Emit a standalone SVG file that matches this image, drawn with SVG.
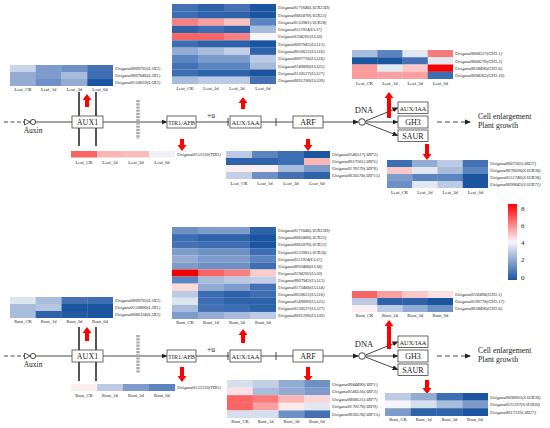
<svg xmlns="http://www.w3.org/2000/svg" width="550" height="428" viewBox="0 0 550 428">
<style>
text{font-family:"Liberation Serif","Times New Roman",serif;fill:#222}
.g{font-size:4.6px;font-style:italic}
.c{font-size:4.6px;text-anchor:middle}
.bx{fill:#fff;stroke:#444;stroke-width:0.8}
.bt{font-size:8px;text-anchor:middle}
.ln{stroke:#333;stroke-width:0.9;fill:none}
.ra{fill:#ff0000}
.mem{stroke:#555;stroke-width:2}
.gm{stroke:#aaa;stroke-width:3.5;stroke-dasharray:2.2,1}
.ce{font-size:7.8px}
</style>
<defs>
<marker id="ah" markerWidth="6" markerHeight="6" refX="5" refY="3" orient="auto" markerUnits="userSpaceOnUse"><path d="M0,0.5 L6,3 L0,5.5 Z" fill="#222"/></marker>
<marker id="oh" markerWidth="7" markerHeight="7" refX="6" refY="3.5" orient="auto" markerUnits="userSpaceOnUse"><path d="M0.5,0.5 L6,3.5 L0.5,6.5 Z" fill="#fff" stroke="#333" stroke-width="0.8"/></marker>
<linearGradient id="cb" x1="0" y1="0" x2="0" y2="1"><stop offset="0" stop-color="#ff0000"/><stop offset="0.5" stop-color="#f7f7fb"/><stop offset="1" stop-color="#1b559f"/></linearGradient>
</defs>

<g id="connectors-top">
<line class="ln" x1="4" y1="122" x2="24" y2="122" stroke-dasharray="4,2.5"/>
<line class="ln" x1="23" y1="122" x2="30" y2="122" marker-end="url(#oh)"/>
<circle cx="33" cy="122" r="2.6" fill="#fff" stroke="#333" stroke-width="0.9"/>
<line class="ln" x1="35.6" y1="122" x2="72" y2="122"/>
<line class="mem" x1="79" y1="92" x2="79" y2="146"/>
<line class="mem" x1="96" y1="92" x2="96" y2="146"/>
<line class="ln" x1="103" y1="122" x2="166.5" y2="122" marker-end="url(#ah)"/>
<line class="gm" x1="138" y1="100" x2="138" y2="139"/>
<line class="ln" x1="196" y1="122" x2="229" y2="122"/>
<line class="ln" x1="228" y1="118" x2="228" y2="126"/>
<line class="ln" x1="261" y1="122" x2="293" y2="122"/>
<line class="ln" x1="276" y1="118" x2="276" y2="126"/>
<line class="ln" x1="323" y1="122" x2="358" y2="122" marker-end="url(#ah)"/>
<circle cx="362" cy="122" r="3.3" fill="#fff" stroke="#333" stroke-width="0.9"/>
<line class="ln" x1="365.5" y1="121" x2="397.5" y2="108" marker-end="url(#ah)"/>
<line class="ln" x1="365.5" y1="122" x2="397.5" y2="122" marker-end="url(#ah)"/>
<line class="ln" x1="365.5" y1="123" x2="397.5" y2="135.5" marker-end="url(#ah)"/>
<line class="ln" x1="437" y1="122" x2="470" y2="122" stroke-dasharray="5,3" marker-end="url(#ah)"/>
</g>
<g id="labels-top">
<text x="33" y="133" style="font-size:7.5px;text-anchor:middle">Auxin</text>
<text x="211" y="118" style="font-size:7.5px;text-anchor:middle">+u</text>
<text x="364" y="113" style="font-size:8.5px;text-anchor:middle">DNA</text>
<text class="ce" x="478" y="119">Cell enlargement</text>
<text class="ce" x="478" y="128">Plant growth</text>
</g>
<g id="aux1-top"><rect class="bx" x="72" y="116" width="31" height="12"/><text class="bt" x="87.5" y="125">AUX1</text></g>
<g id="tir1-top"><rect class="bx" x="167" y="116" width="29" height="12"/><text class="bt" x="181.5" y="125" style="font-size:7px" textLength="27" lengthAdjust="spacingAndGlyphs">TIR1/AFB</text></g>
<g id="auxiaa-top"><rect class="bx" x="230" y="116" width="31" height="12"/><text class="bt" x="245.5" y="125" style="font-size:7px" textLength="28" lengthAdjust="spacingAndGlyphs">AUX/IAA</text></g>
<g id="arf-top"><rect class="bx" x="293" y="116" width="30" height="12"/><text class="bt" x="308" y="125">ARF</text></g>
<g id="auxiaa2-top"><rect class="bx" x="398" y="102" width="30" height="11.5"/><text class="bt" x="413" y="110.5" style="font-size:7px" textLength="27" lengthAdjust="spacingAndGlyphs">AUX/IAA</text></g>
<g id="gh3-top"><rect class="bx" x="398" y="116" width="30" height="12"/><text class="bt" x="413" y="125">GH3</text></g>
<g id="saur-top"><rect class="bx" x="398" y="130" width="30" height="11.5"/><text class="bt" x="413" y="139">SAUR</text></g>

<g id="redarrows-top">
<path class="ra" d="M87,94 L91.5,100 L89,100 L89,107 L85,107 L85,100 L82.5,100 Z"/>
<path class="ra" d="M243,97 L247.5,103 L245,103 L245,109 L241,109 L241,103 L238.5,103 Z"/>
<path class="ra" d="M389,92 L393.5,98 L391,98 L391,118 L387,118 L387,98 L384.5,98 Z"/>
<path class="ra" d="M182,151 L186.5,145 L184,145 L184,139 L180,139 L180,145 L177.5,145 Z"/>
<path class="ra" d="M308,151 L312.5,145 L310,145 L310,139 L306,139 L306,145 L303.5,145 Z"/>
<path class="ra" d="M427,160 L431.5,154 L429,154 L429,144 L425,144 L425,154 L422.5,154 Z"/>
</g>

<g id="hm-lax-top">
<rect x="10" y="65" width="26" height="7" fill="#c8d4e8"/><rect x="35.75" y="65" width="26" height="7" fill="#7d9ccb"/><rect x="61.5" y="65" width="26" height="7" fill="#6d90c5"/><rect x="87.25" y="65" width="25.75" height="7" fill="#4670b4"/>
<rect x="10" y="72" width="26" height="7" fill="#94acd3"/><rect x="35.75" y="72" width="26" height="7" fill="#7d9ccb"/><rect x="61.5" y="72" width="26" height="7" fill="#a8bcdb"/><rect x="87.25" y="72" width="25.75" height="7" fill="#3d6db3"/>
<rect x="10" y="79" width="26" height="7" fill="#94acd3"/><rect x="35.75" y="79" width="26" height="7" fill="#6d90c5"/><rect x="61.5" y="79" width="26" height="7" fill="#94acd3"/><rect x="87.25" y="79" width="25.75" height="7" fill="#1b559f"/>
<text class="g" x="115" y="70">Unigene0000793(LAX2)</text><text class="g" x="115" y="77">Unigene0007646(LAX1)</text><text class="g" x="115" y="84">Unigene0150810(LAX3)</text>
<text class="c" x="23" y="91">Leaf_CK</text><text class="c" x="48.6" y="91">Leaf_1d</text><text class="c" x="74.4" y="91">Leaf_3d</text><text class="c" x="100" y="91">Leaf_6d</text>
</g>

<g id="hm-auxiaa-top">
<rect x="172" y="4" width="26" height="7.3" fill="#4670b4"/><rect x="198" y="4" width="26" height="7.3" fill="#2e63aa"/><rect x="224" y="4" width="26" height="7.3" fill="#4670b4"/><rect x="250" y="4" width="26" height="7.3" fill="#1b559f"/>
<rect x="172" y="11.27" width="26" height="7.3" fill="#3d6db3"/><rect x="198" y="11.27" width="26" height="7.3" fill="#2e63aa"/><rect x="224" y="11.27" width="26" height="7.3" fill="#2e63aa"/><rect x="250" y="11.27" width="26" height="7.3" fill="#1b559f"/>
<rect x="172" y="18.54" width="26" height="7.3" fill="#f98080"/><rect x="198" y="18.54" width="26" height="7.3" fill="#fba0a0"/><rect x="224" y="18.54" width="26" height="7.3" fill="#fbc0c0"/><rect x="250" y="18.54" width="26" height="7.3" fill="#5b85c0"/>
<rect x="172" y="25.81" width="26" height="7.3" fill="#2e63aa"/><rect x="198" y="25.81" width="26" height="7.3" fill="#3d6db3"/><rect x="224" y="25.81" width="26" height="7.3" fill="#2e63aa"/><rect x="250" y="25.81" width="26" height="7.3" fill="#a8bcdb"/>
<rect x="172" y="33.08" width="26" height="7.3" fill="#f96464"/><rect x="198" y="33.08" width="26" height="7.3" fill="#f96464"/><rect x="224" y="33.08" width="26" height="7.3" fill="#f98080"/><rect x="250" y="33.08" width="26" height="7.3" fill="#f5f5fa"/>
<rect x="172" y="40.35" width="26" height="7.3" fill="#3d6db3"/><rect x="198" y="40.35" width="26" height="7.3" fill="#2e63aa"/><rect x="224" y="40.35" width="26" height="7.3" fill="#2e63aa"/><rect x="250" y="40.35" width="26" height="7.3" fill="#1b559f"/>
<rect x="172" y="47.62" width="26" height="7.3" fill="#94acd3"/><rect x="198" y="47.62" width="26" height="7.3" fill="#a8bcdb"/><rect x="224" y="47.62" width="26" height="7.3" fill="#c3cfe5"/><rect x="250" y="47.62" width="26" height="7.3" fill="#2e63aa"/>
<rect x="172" y="54.89" width="26" height="7.3" fill="#5b85c0"/><rect x="198" y="54.89" width="26" height="7.3" fill="#7d9ccb"/><rect x="224" y="54.89" width="26" height="7.3" fill="#7d9ccb"/><rect x="250" y="54.89" width="26" height="7.3" fill="#bccbe3"/>
<rect x="172" y="62.16" width="26" height="7.3" fill="#4670b4"/><rect x="198" y="62.16" width="26" height="7.3" fill="#5b85c0"/><rect x="224" y="62.16" width="26" height="7.3" fill="#5b85c0"/><rect x="250" y="62.16" width="26" height="7.3" fill="#a8bcdb"/>
<rect x="172" y="69.43" width="26" height="7.3" fill="#3d6db3"/><rect x="198" y="69.43" width="26" height="7.3" fill="#2e63aa"/><rect x="224" y="69.43" width="26" height="7.3" fill="#2e63aa"/><rect x="250" y="69.43" width="26" height="7.3" fill="#1b559f"/>
<rect x="172" y="76.7" width="26" height="7.3" fill="#a8bcdb"/><rect x="198" y="76.7" width="26" height="7.3" fill="#bccbe3"/><rect x="224" y="76.7" width="26" height="7.3" fill="#bccbe3"/><rect x="250" y="76.7" width="26" height="7.3" fill="#4670b4"/>
<text class="g" x="278" y="9.3">Unigene0171646(AUX22D)</text>
<text class="g" x="278" y="16.6">Unigene0081870(AUX22)</text>
<text class="g" x="278" y="23.9">Unigene0153981(AUX28)</text>
<text class="g" x="278" y="31.1">Unigene0113914(IAA7)</text>
<text class="g" x="278" y="38.4">Unigene0194202(IAA9)</text>
<text class="g" x="278" y="45.7">Unigene0007943(IAA13)</text>
<text class="g" x="278" y="52.9">Unigene0050623(IAA16)</text>
<text class="g" x="278" y="60.2">Unigene0007716(IAA18)</text>
<text class="g" x="278" y="67.5">Unigene0149009(IAA25)</text>
<text class="g" x="278" y="74.8">Unigene0150537(IAA27)</text>
<text class="g" x="278" y="82">Unigene0091290(IAA30)</text>
<text class="c" x="185" y="90">Leaf_CK</text><text class="c" x="211" y="90">Leaf_1d</text><text class="c" x="237" y="90">Leaf_3d</text><text class="c" x="263" y="90">Leaf_6d</text>
</g>

<g id="hm-gh3-top">
<rect x="352" y="50" width="25.5" height="7.3" fill="#a8bcdb"/><rect x="377.25" y="50" width="25.5" height="7.3" fill="#5b85c0"/><rect x="402.5" y="50" width="25.5" height="7.3" fill="#e2e8f2"/><rect x="427.75" y="50" width="25.25" height="7.3" fill="#f97a7a"/>
<rect x="352" y="57.25" width="25.5" height="7.3" fill="#1b559f"/><rect x="377.25" y="57.25" width="25.5" height="7.3" fill="#1b559f"/><rect x="402.5" y="57.25" width="25.5" height="7.3" fill="#4670b4"/><rect x="427.75" y="57.25" width="25.25" height="7.3" fill="#e2e8f2"/>
<rect x="352" y="64.5" width="25.5" height="7.3" fill="#fb9a9a"/><rect x="377.25" y="64.5" width="25.5" height="7.3" fill="#e2e8f2"/><rect x="402.5" y="64.5" width="25.5" height="7.3" fill="#fbc8c8"/><rect x="427.75" y="64.5" width="25.25" height="7.3" fill="#f50000"/>
<rect x="352" y="71.75" width="25.5" height="7.25" fill="#fb9a9a"/><rect x="377.25" y="71.75" width="25.5" height="7.25" fill="#fba0a0"/><rect x="402.5" y="71.75" width="25.5" height="7.25" fill="#fba0a0"/><rect x="427.75" y="71.75" width="25.25" height="7.25" fill="#3d6db3"/>
<text class="g" x="455" y="55.3">Unigene0068327(GH3.1)</text><text class="g" x="455" y="62.5">Unigene0068276(GH3.2)</text><text class="g" x="455" y="69.8">Unigene0038496(GH3.6)</text><text class="g" x="455" y="77">Unigene0094262(GH3.10)</text>
<text class="c" x="364.6" y="84.5">Leaf_CK</text><text class="c" x="389.9" y="84.5">Leaf_1d</text><text class="c" x="415.2" y="84.5">Leaf_3d</text><text class="c" x="440.4" y="84.5">Leaf_6d</text>
</g>

<g id="hm-tir1-top">
<rect x="71" y="151" width="26.2" height="6.5" fill="#f96464"/><rect x="97" y="151" width="26.2" height="6.5" fill="#fbb5b5"/><rect x="123" y="151" width="26.2" height="6.5" fill="#fbbcbc"/><rect x="149" y="151" width="26" height="6.5" fill="#eef0f6"/>
<text class="g" x="177" y="155.8">Unigene0152310(TIR1)</text>
<text class="c" x="84" y="163.5">Leaf_CK</text><text class="c" x="110" y="163.5">Leaf_1d</text><text class="c" x="136" y="163.5">Leaf_3d</text><text class="c" x="162" y="163.5">Leaf_6d</text>
</g>

<g id="hm-arf-top">
<rect x="226" y="151" width="26.2" height="7.2" fill="#bccbe3"/><rect x="252" y="151" width="26.2" height="7.2" fill="#5b85c0"/><rect x="278" y="151" width="26.2" height="7.2" fill="#3d6db3"/><rect x="304" y="151" width="26" height="7.2" fill="#1b559f"/>
<rect x="226" y="158" width="26.2" height="7.2" fill="#2e63aa"/><rect x="252" y="158" width="26.2" height="7.2" fill="#2e63aa"/><rect x="278" y="158" width="26.2" height="7.2" fill="#3d6db3"/><rect x="304" y="158" width="26" height="7.2" fill="#fbb5b5"/>
<rect x="226" y="165" width="26.2" height="7.2" fill="#fbeef0"/><rect x="252" y="165" width="26.2" height="7.2" fill="#fbeef0"/><rect x="278" y="165" width="26.2" height="7.2" fill="#a8bcdb"/><rect x="304" y="165" width="26" height="7.2" fill="#7d9ccb"/>
<rect x="226" y="172" width="26.2" height="7" fill="#c3cfe5"/><rect x="252" y="172" width="26.2" height="7" fill="#6d90c5"/><rect x="278" y="172" width="26.2" height="7" fill="#4670b4"/><rect x="304" y="172" width="26" height="7" fill="#2e63aa"/>
<text class="g" x="332" y="156">Unigene0146517(ARF3)</text><text class="g" x="332" y="163">Unigene0057501(ARF5)</text><text class="g" x="332" y="170">Unigene0170179(ARF9)</text><text class="g" x="332" y="177">Unigene0036578(ARF15)</text>
<text class="c" x="239" y="185">Leaf_CK</text><text class="c" x="265" y="185">Leaf_1d</text><text class="c" x="291" y="185">Leaf_3d</text><text class="c" x="317" y="185">Leaf_6d</text>
</g>

<g id="hm-saur-top">
<rect x="387" y="160" width="25.5" height="7.2" fill="#3d6db3"/><rect x="412.25" y="160" width="25.5" height="7.2" fill="#94acd3"/><rect x="437.5" y="160" width="25.5" height="7.2" fill="#bccbe3"/><rect x="462.75" y="160" width="25.25" height="7.2" fill="#4670b4"/>
<rect x="387" y="167" width="25.5" height="7.2" fill="#fbc8c8"/><rect x="412.25" y="167" width="25.5" height="7.2" fill="#e2e8f2"/><rect x="437.5" y="167" width="25.5" height="7.2" fill="#a8bcdb"/><rect x="462.75" y="167" width="25.25" height="7.2" fill="#5b85c0"/>
<rect x="387" y="174" width="25.5" height="7.2" fill="#7d9ccb"/><rect x="412.25" y="174" width="25.5" height="7.2" fill="#5b85c0"/><rect x="437.5" y="174" width="25.5" height="7.2" fill="#5b85c0"/><rect x="462.75" y="174" width="25.25" height="7.2" fill="#1b559f"/>
<rect x="387" y="181" width="25.5" height="7" fill="#6d90c5"/><rect x="412.25" y="181" width="25.5" height="7" fill="#e2e8f2"/><rect x="437.5" y="181" width="25.5" height="7" fill="#bccbe3"/><rect x="462.75" y="181" width="25.25" height="7" fill="#1b559f"/>
<text class="g" x="490" y="165">Unigene0067202(ARG7)</text><text class="g" x="490" y="172">Unigene0076026(SAUR36)</text><text class="g" x="490" y="179">Unigene0151746(SAUR36)</text><text class="g" x="490" y="186">Unigene0090643(SAUR71)</text>
<text class="c" x="399.6" y="193.5">Leaf_CK</text><text class="c" x="424.9" y="193.5">Leaf_1d</text><text class="c" x="450.2" y="193.5">Leaf_3d</text><text class="c" x="475.4" y="193.5">Leaf_6d</text>
</g>

<g id="colorbar">
<rect x="508" y="204" width="9" height="76" fill="url(#cb)"/>
<text x="521" y="211" style="font-size:7px">8</text>
<text x="521" y="228" style="font-size:7px">6</text>
<text x="521" y="245" style="font-size:7px">4</text>
<text x="521" y="262" style="font-size:7px">2</text>
<text x="521" y="280" style="font-size:7px">0</text>
</g>

<g id="connectors-bottom">
<line class="ln" x1="4" y1="356" x2="24" y2="356" stroke-dasharray="4,2.5"/>
<line class="ln" x1="23" y1="356" x2="30" y2="356" marker-end="url(#oh)"/>
<circle cx="33" cy="356" r="2.6" fill="#fff" stroke="#333" stroke-width="0.9"/>
<line class="ln" x1="35.6" y1="356" x2="72" y2="356"/>
<line class="mem" x1="79" y1="327" x2="79" y2="381"/>
<line class="mem" x1="96" y1="327" x2="96" y2="381"/>
<line class="ln" x1="103" y1="356" x2="166.5" y2="356" marker-end="url(#ah)"/>
<line class="gm" x1="138" y1="335" x2="138" y2="373"/>
<line class="ln" x1="196" y1="356" x2="229" y2="356"/>
<line class="ln" x1="228" y1="352" x2="228" y2="360"/>
<line class="ln" x1="261" y1="356" x2="293" y2="356"/>
<line class="ln" x1="276" y1="352" x2="276" y2="360"/>
<line class="ln" x1="323" y1="356" x2="358" y2="356" marker-end="url(#ah)"/>
<circle cx="362" cy="356" r="3.3" fill="#fff" stroke="#333" stroke-width="0.9"/>
<line class="ln" x1="365.5" y1="355" x2="397.5" y2="342" marker-end="url(#ah)"/>
<line class="ln" x1="365.5" y1="356" x2="397.5" y2="356" marker-end="url(#ah)"/>
<line class="ln" x1="365.5" y1="357" x2="397.5" y2="369.5" marker-end="url(#ah)"/>
<line class="ln" x1="437" y1="356" x2="470" y2="356" stroke-dasharray="5,3" marker-end="url(#ah)"/>
</g>
<g id="labels-bottom">
<text x="33" y="367" style="font-size:7.5px;text-anchor:middle">Auxin</text>
<text x="211" y="352" style="font-size:7.5px;text-anchor:middle">+u</text>
<text x="364" y="347" style="font-size:8.5px;text-anchor:middle">DNA</text>
<text class="ce" x="478" y="353">Cell enlargement</text>
<text class="ce" x="478" y="362">Plant growth</text>
</g>
<g id="aux1-bottom"><rect class="bx" x="72" y="350" width="31" height="12"/><text class="bt" x="87.5" y="359">AUX1</text></g>
<g id="tir1-bottom"><rect class="bx" x="167" y="350" width="29" height="12"/><text class="bt" x="181.5" y="359" style="font-size:7px" textLength="27" lengthAdjust="spacingAndGlyphs">TIR1/AFB</text></g>
<g id="auxiaa-bottom"><rect class="bx" x="230" y="350" width="31" height="12"/><text class="bt" x="245.5" y="359" style="font-size:7px" textLength="28" lengthAdjust="spacingAndGlyphs">AUX/IAA</text></g>
<g id="arf-bottom"><rect class="bx" x="293" y="350" width="30" height="12"/><text class="bt" x="308" y="359">ARF</text></g>
<g id="auxiaa2-bottom"><rect class="bx" x="398" y="336" width="30" height="11.5"/><text class="bt" x="413" y="344.5" style="font-size:7px" textLength="27" lengthAdjust="spacingAndGlyphs">AUX/IAA</text></g>
<g id="gh3-bottom"><rect class="bx" x="398" y="350" width="30" height="12"/><text class="bt" x="413" y="359">GH3</text></g>
<g id="saur-bottom"><rect class="bx" x="398" y="364" width="30" height="11.5"/><text class="bt" x="413" y="373">SAUR</text></g>

<g id="redarrows-bottom">
<path class="ra" d="M87,327 L91.5,333 L89,333 L89,341 L85,341 L85,333 L82.5,333 Z"/>
<path class="ra" d="M243,329 L247.5,335 L245,335 L245,343 L241,343 L241,335 L238.5,335 Z"/>
<path class="ra" d="M389,320 L393.5,326 L391,326 L391,349 L387,349 L387,326 L384.5,326 Z"/>
<path class="ra" d="M182,382 L186.5,376 L184,376 L184,367 L180,367 L180,376 L177.5,376 Z"/>
<path class="ra" d="M308,382 L312.5,376 L310,376 L310,367 L306,367 L306,376 L303.5,376 Z"/>
<path class="ra" d="M427,394 L431.5,388 L429,388 L429,380 L425,380 L425,388 L422.5,388 Z"/>
</g>

<g id="hm-lax-bottom">
<rect x="10" y="297" width="26" height="7" fill="#dde5f0"/><rect x="35.75" y="297" width="26" height="7" fill="#a8bcdb"/><rect x="61.5" y="297" width="26" height="7" fill="#4670b4"/><rect x="87.25" y="297" width="25.75" height="7" fill="#3d6db3"/>
<rect x="10" y="304" width="26" height="7" fill="#a8bcdb"/><rect x="35.75" y="304" width="26" height="7" fill="#b5c6e0"/><rect x="61.5" y="304" width="26" height="7" fill="#1b559f"/><rect x="87.25" y="304" width="25.75" height="7" fill="#1b559f"/>
<rect x="10" y="311" width="26" height="7" fill="#a8bcdb"/><rect x="35.75" y="311" width="26" height="7" fill="#2e63aa"/><rect x="61.5" y="311" width="26" height="7" fill="#235aa3"/><rect x="87.25" y="311" width="25.75" height="7" fill="#1b559f"/>
<text class="g" x="115" y="302">Unigene0000793(LAX2)</text><text class="g" x="115" y="309">Unigene0150800(LAX1)</text><text class="g" x="115" y="316">Unigene0086324(LAX3)</text>
<text class="c" x="23" y="322.5">Root_CK</text><text class="c" x="48.6" y="322.5">Root_1d</text><text class="c" x="74.4" y="322.5">Root_3d</text><text class="c" x="100" y="322.5">Root_6d</text>
</g>

<g id="hm-auxiaa-bottom">
<rect x="172" y="227" width="26" height="7.1" fill="#6d90c5"/><rect x="198" y="227" width="26" height="7.1" fill="#7d9ccb"/><rect x="224" y="227" width="26" height="7.1" fill="#7d9ccb"/><rect x="250" y="227" width="26" height="7.1" fill="#2e63aa"/>
<rect x="172" y="234.08" width="26" height="7.1" fill="#3d6db3"/><rect x="198" y="234.08" width="26" height="7.1" fill="#2e63aa"/><rect x="224" y="234.08" width="26" height="7.1" fill="#2e63aa"/><rect x="250" y="234.08" width="26" height="7.1" fill="#1b559f"/>
<rect x="172" y="241.16" width="26" height="7.1" fill="#4670b4"/><rect x="198" y="241.16" width="26" height="7.1" fill="#3d6db3"/><rect x="224" y="241.16" width="26" height="7.1" fill="#3d6db3"/><rect x="250" y="241.16" width="26" height="7.1" fill="#1b559f"/>
<rect x="172" y="248.24" width="26" height="7.1" fill="#7d9ccb"/><rect x="198" y="248.24" width="26" height="7.1" fill="#6d90c5"/><rect x="224" y="248.24" width="26" height="7.1" fill="#6d90c5"/><rect x="250" y="248.24" width="26" height="7.1" fill="#3d6db3"/>
<rect x="172" y="255.32" width="26" height="7.1" fill="#94acd3"/><rect x="198" y="255.32" width="26" height="7.1" fill="#7d9ccb"/><rect x="224" y="255.32" width="26" height="7.1" fill="#7d9ccb"/><rect x="250" y="255.32" width="26" height="7.1" fill="#5b85c0"/>
<rect x="172" y="262.4" width="26" height="7.1" fill="#7d9ccb"/><rect x="198" y="262.4" width="26" height="7.1" fill="#6d90c5"/><rect x="224" y="262.4" width="26" height="7.1" fill="#6d90c5"/><rect x="250" y="262.4" width="26" height="7.1" fill="#3d6db3"/>
<rect x="172" y="269.48" width="26" height="7.1" fill="#f50000"/><rect x="198" y="269.48" width="26" height="7.1" fill="#f96464"/><rect x="224" y="269.48" width="26" height="7.1" fill="#f98080"/><rect x="250" y="269.48" width="26" height="7.1" fill="#fbcaca"/>
<rect x="172" y="276.56" width="26" height="7.1" fill="#5b85c0"/><rect x="198" y="276.56" width="26" height="7.1" fill="#a8bcdb"/><rect x="224" y="276.56" width="26" height="7.1" fill="#bccbe3"/><rect x="250" y="276.56" width="26" height="7.1" fill="#c3cfe5"/>
<rect x="172" y="283.64" width="26" height="7.1" fill="#fbdada"/><rect x="198" y="283.64" width="26" height="7.1" fill="#94acd3"/><rect x="224" y="283.64" width="26" height="7.1" fill="#7d9ccb"/><rect x="250" y="283.64" width="26" height="7.1" fill="#4670b4"/>
<rect x="172" y="290.72" width="26" height="7.1" fill="#bccbe3"/><rect x="198" y="290.72" width="26" height="7.1" fill="#3d6db3"/><rect x="224" y="290.72" width="26" height="7.1" fill="#2e63aa"/><rect x="250" y="290.72" width="26" height="7.1" fill="#3d6db3"/>
<rect x="172" y="297.8" width="26" height="7.1" fill="#dde5f0"/><rect x="198" y="297.8" width="26" height="7.1" fill="#3d6db3"/><rect x="224" y="297.8" width="26" height="7.1" fill="#2e63aa"/><rect x="250" y="297.8" width="26" height="7.1" fill="#2e63aa"/>
<rect x="172" y="304.88" width="26" height="7.1" fill="#a8bcdb"/><rect x="198" y="304.88" width="26" height="7.1" fill="#4670b4"/><rect x="224" y="304.88" width="26" height="7.1" fill="#3d6db3"/><rect x="250" y="304.88" width="26" height="7.1" fill="#2e63aa"/>
<rect x="172" y="311.96" width="26" height="7.04" fill="#7d9ccb"/><rect x="198" y="311.96" width="26" height="7.04" fill="#94acd3"/><rect x="224" y="311.96" width="26" height="7.04" fill="#a8bcdb"/><rect x="250" y="311.96" width="26" height="7.04" fill="#bccbe3"/>
<text class="g" x="278" y="232.2">Unigene0171646(AUX22D)</text>
<text class="g" x="278" y="239.3">Unigene0081860(AUX22)</text>
<text class="g" x="278" y="246.4">Unigene0081870(AUX22)</text>
<text class="g" x="278" y="253.5">Unigene0153981(AUX28)</text>
<text class="g" x="278" y="260.6">Unigene0113914(IAA7)</text>
<text class="g" x="278" y="267.7">Unigene0093488(IAA8)</text>
<text class="g" x="278" y="274.7">Unigene0194202(IAA9)</text>
<text class="g" x="278" y="281.8">Unigene0007943(IAA13)</text>
<text class="g" x="278" y="288.9">Unigene0173488(IAA14)</text>
<text class="g" x="278" y="296">Unigene0050623(IAA16)</text>
<text class="g" x="278" y="303.1">Unigene0149009(IAA25)</text>
<text class="g" x="278" y="310.2">Unigene0150537(IAA27)</text>
<text class="g" x="278" y="317.2">Unigene0091290(IAA30)</text>
<text class="c" x="185" y="323.5">Root_CK</text><text class="c" x="211" y="323.5">Root_1d</text><text class="c" x="237" y="323.5">Root_3d</text><text class="c" x="263" y="323.5">Root_6d</text>
</g>

<g id="hm-gh3-bottom">
<rect x="352" y="291" width="25.5" height="7.2" fill="#f96464"/><rect x="377.25" y="291" width="25.5" height="7.2" fill="#fba0a0"/><rect x="402.5" y="291" width="25.5" height="7.2" fill="#fbc8c8"/><rect x="427.75" y="291" width="25.25" height="7.2" fill="#fbe0e4"/>
<rect x="352" y="298" width="25.5" height="7.2" fill="#bccbe3"/><rect x="377.25" y="298" width="25.5" height="7.2" fill="#2e63aa"/><rect x="402.5" y="298" width="25.5" height="7.2" fill="#2e63aa"/><rect x="427.75" y="298" width="25.25" height="7.2" fill="#1b559f"/>
<rect x="352" y="305" width="25.5" height="7" fill="#fbeef0"/><rect x="377.25" y="305" width="25.5" height="7" fill="#bccbe3"/><rect x="402.5" y="305" width="25.5" height="7" fill="#94acd3"/><rect x="427.75" y="305" width="25.25" height="7" fill="#6d90c5"/>
<text class="g" x="455" y="296">Unigene0118496(GH3.1)</text><text class="g" x="455" y="303">Unigene0109778(GH3.17)</text><text class="g" x="455" y="310">Unigene0038496(GH3.6)</text>
<text class="c" x="364.6" y="316.5">Root_CK</text><text class="c" x="389.9" y="316.5">Root_1d</text><text class="c" x="415.2" y="316.5">Root_3d</text><text class="c" x="440.4" y="316.5">Root_6d</text>
</g>

<g id="hm-tir1-bottom">
<rect x="71" y="384" width="26.2" height="7" fill="#fdeef0"/><rect x="97" y="384" width="26.2" height="7" fill="#bccbe3"/><rect x="123" y="384" width="26.2" height="7" fill="#7d9ccb"/><rect x="149" y="384" width="26" height="7" fill="#5b85c0"/>
<text class="g" x="177" y="389">Unigene0152310(TIR1)</text>
<text class="c" x="84" y="397">Root_CK</text><text class="c" x="110" y="397">Root_1d</text><text class="c" x="136" y="397">Root_3d</text><text class="c" x="162" y="397">Root_6d</text>
</g>

<g id="hm-arf-bottom">
<rect x="227" y="380" width="26" height="7.7" fill="#d5dfee"/><rect x="252.75" y="380" width="26" height="7.7" fill="#c3cfe5"/><rect x="278.5" y="380" width="26" height="7.7" fill="#94acd3"/><rect x="304.25" y="380" width="25.75" height="7.7" fill="#6d90c5"/>
<rect x="227" y="387.6" width="26" height="7.7" fill="#fbe0e4"/><rect x="252.75" y="387.6" width="26" height="7.7" fill="#a8bcdb"/><rect x="278.5" y="387.6" width="26" height="7.7" fill="#94acd3"/><rect x="304.25" y="387.6" width="25.75" height="7.7" fill="#7d9ccb"/>
<rect x="227" y="395.2" width="26" height="7.7" fill="#f96464"/><rect x="252.75" y="395.2" width="26" height="7.7" fill="#f97a7a"/><rect x="278.5" y="395.2" width="26" height="7.7" fill="#fbb5b5"/><rect x="304.25" y="395.2" width="25.75" height="7.7" fill="#fbd5d8"/>
<rect x="227" y="402.8" width="26" height="7.7" fill="#f96464"/><rect x="252.75" y="402.8" width="26" height="7.7" fill="#fba0a0"/><rect x="278.5" y="402.8" width="26" height="7.7" fill="#fbeaea"/><rect x="304.25" y="402.8" width="25.75" height="7.7" fill="#e2e8f2"/>
<rect x="227" y="410.4" width="26" height="7.6" fill="#d5dfee"/><rect x="252.75" y="410.4" width="26" height="7.6" fill="#d5dfee"/><rect x="278.5" y="410.4" width="26" height="7.6" fill="#6d90c5"/><rect x="304.25" y="410.4" width="25.75" height="7.6" fill="#4670b4"/>
<text class="g" x="332" y="385.5">Unigene0044490(ARF1)</text><text class="g" x="332" y="393">Unigene0146516(ARF3)</text><text class="g" x="332" y="400.7">Unigene0008531(ARF7)</text><text class="g" x="332" y="408.3">Unigene0170179(ARF9)</text><text class="g" x="332" y="415.9">Unigene0036578(ARF15)</text>
<text class="c" x="240" y="423">Root_CK</text><text class="c" x="265.6" y="423">Root_1d</text><text class="c" x="291.4" y="423">Root_3d</text><text class="c" x="317" y="423">Root_6d</text>
</g>

<g id="hm-saur-bottom">
<rect x="385" y="393" width="26" height="7.7" fill="#bccbe3"/><rect x="410.75" y="393" width="26" height="7.7" fill="#94acd3"/><rect x="436.5" y="393" width="26" height="7.7" fill="#3d6db3"/><rect x="462.25" y="393" width="25.75" height="7.7" fill="#1b559f"/>
<rect x="385" y="400.6" width="26" height="7.7" fill="#f5f5fa"/><rect x="410.75" y="400.6" width="26" height="7.7" fill="#d5dfee"/><rect x="436.5" y="400.6" width="26" height="7.7" fill="#a8bcdb"/><rect x="462.25" y="400.6" width="25.75" height="7.7" fill="#7d9ccb"/>
<rect x="385" y="408.2" width="26" height="7.8" fill="#7d9ccb"/><rect x="410.75" y="408.2" width="26" height="7.8" fill="#2e63aa"/><rect x="436.5" y="408.2" width="26" height="7.8" fill="#2e63aa"/><rect x="462.25" y="408.2" width="25.75" height="7.8" fill="#1b559f"/>
<text class="g" x="490" y="398.5">Unigene0098993(SAUR36)</text><text class="g" x="490" y="406">Unigene0111297(SAUR50)</text><text class="g" x="490" y="413.7">Unigene0017339(ARG7)</text>
<text class="c" x="398" y="421">Root_CK</text><text class="c" x="423.6" y="421">Root_1d</text><text class="c" x="449.4" y="421">Root_3d</text><text class="c" x="475" y="421">Root_6d</text>
</g>
</svg>
